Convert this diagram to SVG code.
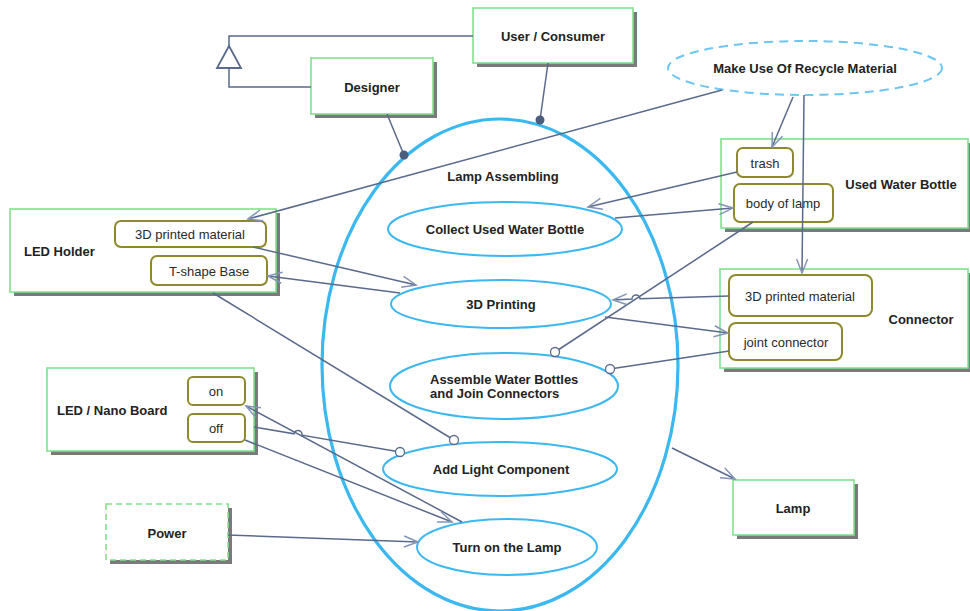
<svg xmlns="http://www.w3.org/2000/svg" width="970" height="611" viewBox="0 0 970 611">
  <style>
    .box { fill: #ffffff; stroke: #7fe38c; stroke-width: 1.6; }
    .dashbox { fill: #ffffff; stroke: #7fe38c; stroke-width: 1.6; stroke-dasharray: 6 4; }
    .shadow { fill: #7a7a7a; }
    .part { fill: #ffffff; stroke: #8e8a2c; stroke-width: 2; }
    .uc { fill: #ffffff; stroke: #3cb8f0; stroke-width: 2; }
    .system { fill: none; stroke: #3cb8f0; stroke-width: 3.2; }
    .goal { fill: #ffffff; stroke: #6cc6f0; stroke-width: 2; stroke-dasharray: 9 6; }
    .title { font-family: "Liberation Sans", Arial, sans-serif; font-size: 13px; font-weight: bold; fill: #222222; }
    .label { font-family: "Liberation Sans", Arial, sans-serif; font-size: 13px; fill: #2a2a2a; }
    .mid { text-anchor: middle; dominant-baseline: central; }
    .link { fill: none; stroke: #5a6a8c; stroke-width: 1.5; }
    .arrow { marker-end: url(#open); }
    .dot { fill: #4d5c7c; }
    .ring { fill: #ffffff; stroke: #5a6a8c; stroke-width: 1.3; }
  </style>
  <defs>
    <marker id="open" markerWidth="18" markerHeight="14" refX="15" refY="7" orient="auto" markerUnits="userSpaceOnUse">
      <path d="M1,1.5 L15,7 L1,12.5" fill="none" stroke="#8494b6" stroke-width="1.5"/>
    </marker>
  </defs>

  <!-- system boundary -->
  <g id="lamp-assembling">
    <ellipse class="system" cx="500" cy="365" rx="178" ry="246"/>
    <text class="title mid" x="503" y="176">Lamp Assembling</text>
  </g>

  <!-- use cases -->
  <g id="uc-collect">
    <ellipse class="uc" cx="505" cy="229" rx="117" ry="27"/>
    <text class="title mid" x="505" y="229">Collect Used Water Bottle</text>
  </g>
  <g id="uc-print">
    <ellipse class="uc" cx="501" cy="304" rx="110" ry="24"/>
    <text class="title mid" x="501" y="304">3D Printing</text>
  </g>
  <g id="uc-assemble">
    <ellipse class="uc" cx="504" cy="386" rx="114" ry="33"/>
    <text class="title" x="430" y="384">Assemble Water Bottles</text>
    <text class="title" x="430" y="398">and Join Connectors</text>
  </g>
  <g id="uc-light">
    <ellipse class="uc" cx="500" cy="469" rx="117" ry="27"/>
    <text class="title mid" x="501" y="469">Add Light Component</text>
  </g>
  <g id="uc-turn-on">
    <ellipse class="uc" cx="507" cy="547" rx="90" ry="28"/>
    <text class="title mid" x="507" y="547">Turn on the Lamp</text>
  </g>
  <g id="uc-recycle">
    <ellipse class="goal" cx="805" cy="68" rx="137" ry="27"/>
    <text class="title mid" x="805" y="68">Make Use Of Recycle Material</text>
  </g>

  <!-- actors -->
  <g id="user-consumer">
    <rect class="shadow" x="477" y="12" width="160" height="55"/>
    <rect class="box" x="473" y="8" width="160" height="55"/>
    <text class="title mid" x="553" y="36">User / Consumer</text>
  </g>
  <g id="designer">
    <rect class="shadow" x="315" y="62" width="122" height="56"/>
    <rect class="box" x="311" y="58" width="122" height="56"/>
    <text class="title mid" x="372" y="87">Designer</text>
  </g>
  <g id="power">
    <rect class="shadow" x="110" y="508" width="122" height="56"/>
    <rect class="dashbox" x="106" y="504" width="122" height="56"/>
    <text class="title mid" x="167" y="533">Power</text>
  </g>
  <g id="lamp">
    <rect class="shadow" x="737" y="484" width="121" height="55"/>
    <rect class="box" x="733" y="480" width="121" height="55"/>
    <text class="title mid" x="793" y="508">Lamp</text>
  </g>

  <!-- parts -->
  <g id="used-water-bottle">
    <rect class="shadow" x="725" y="143" width="247" height="89"/>
    <rect class="box" x="721" y="139" width="247" height="89"/>
    <text class="title mid" x="901" y="184">Used Water Bottle</text>
    <rect class="part" x="737" y="148" width="56" height="29" rx="6"/>
    <text class="label mid" x="765" y="163">trash</text>
    <rect class="part" x="734" y="184" width="99" height="38" rx="6"/>
    <text class="label mid" x="783" y="203">body of lamp</text>
  </g>
  <g id="connector">
    <rect class="shadow" x="724" y="273" width="248" height="99"/>
    <rect class="box" x="720" y="269" width="248" height="99"/>
    <text class="title mid" x="921" y="319">Connector</text>
    <rect class="part" x="729" y="275" width="143" height="41" rx="7"/>
    <text class="label mid" x="800" y="296">3D printed material</text>
    <rect class="part" x="729" y="323" width="113" height="37" rx="7"/>
    <text class="label mid" x="786" y="342">joint connector</text>
  </g>
  <g id="led-holder">
    <rect class="shadow" x="14" y="213" width="266" height="83"/>
    <rect class="box" x="10" y="209" width="266" height="83"/>
    <text class="title" x="24" y="256">LED Holder</text>
    <rect class="part" x="115" y="221" width="151" height="26" rx="6"/>
    <text class="label mid" x="190" y="234">3D printed material</text>
    <rect class="part" x="151" y="256" width="116" height="29" rx="6"/>
    <text class="label mid" x="209" y="271">T-shape Base</text>
  </g>
  <g id="led-nano-board">
    <rect class="shadow" x="51" y="372" width="207" height="83"/>
    <rect class="box" x="47" y="368" width="207" height="83"/>
    <text class="title" x="57" y="415">LED / Nano Board</text>
    <rect class="part" x="188" y="377" width="57" height="28" rx="5"/>
    <text class="label mid" x="216" y="391">on</text>
    <rect class="part" x="188" y="414" width="57" height="28" rx="5"/>
    <text class="label mid" x="216" y="428">off</text>
  </g>

  <!-- connectors -->
  <g id="connectors">
    <!-- generalization -->
    <path class="link" d="M473,36 L229,36 L229,46"/>
    <path class="link" d="M311,87 L229,87 L229,68"/>
    <path d="M229,46 L241,68 L217,68 Z" fill="#ffffff" stroke="#5a6a8c" stroke-width="1.8"/>

    <!-- actor associations -->
    <path class="link" d="M548,63 L540,120"/>
    <path class="link" d="M387,114 L404,155"/>

    <!-- recycle goal -->
    <path class="link arrow" d="M722,90 L248,219"/>
    <path class="link arrow" d="M793,97 L772,147"/>
    <path class="link arrow" d="M804,95 L802,273"/>

    <!-- used water bottle -->
    <path class="link arrow" d="M737,172 L588,207"/>
    <path class="link arrow" d="M615,218 L733,208"/>
    <path class="link" d="M753,222 L555,352"/>

    <!-- connector parts -->
    <path class="link arrow" d="M729,296 L640,298.8 A4,4 0 0 0 632,299.1 L613,300"/>
    <path class="link arrow" d="M605,317 L728,333"/>
    <path class="link" d="M729,351 L610,369"/>

    <!-- LED holder -->
    <path class="link arrow" d="M253,247 L416,285"/>
    <path class="link arrow" d="M400,293 L268,276"/>
    <path class="link" d="M213,293 L454,440"/>

    <!-- LED / Nano board -->
    <path class="link" d="M254,427 L294,433.8 A4,4 0 0 1 302,435.2 L400,452"/>
    <path class="link arrow" d="M462,522 L246,406"/>
    <path class="link arrow" d="M245,440 L452,522"/>

    <!-- power and lamp -->
    <path class="link arrow" d="M228,535 L418,542"/>
    <path class="link arrow" d="M672,448 L735,479"/>

    <!-- association ends -->
    <circle class="dot" cx="540" cy="120" r="4.5"/>
    <circle class="dot" cx="404" cy="155" r="4.5"/>
    <circle class="ring" cx="555" cy="352" r="4.5"/>
    <circle class="ring" cx="610" cy="369" r="4.5"/>
    <circle class="ring" cx="454" cy="440" r="4.5"/>
    <circle class="ring" cx="400" cy="452" r="4.5"/>
  </g>
</svg>
